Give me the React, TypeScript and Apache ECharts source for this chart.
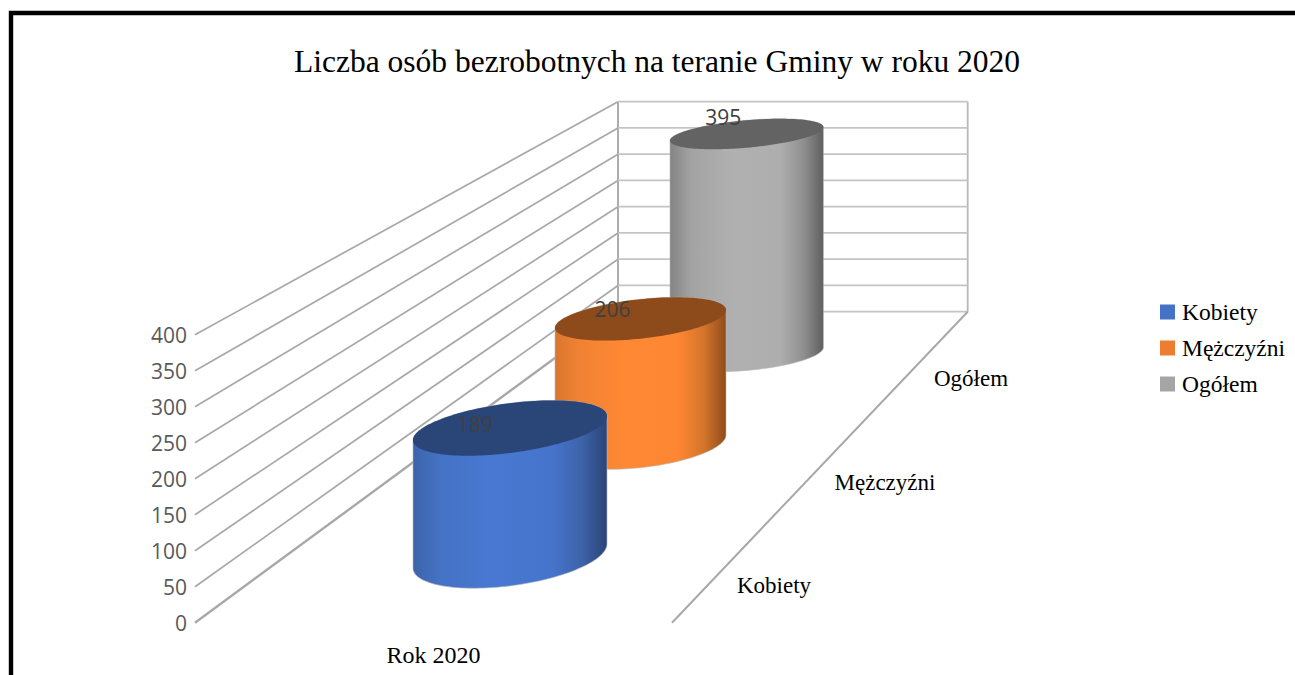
import React, { useEffect, useRef } from "react";
import * as echarts from "echarts";

const titleText = "Liczba osób bezrobotnych na teranie Gminy w roku 2020";
const axisCategories = ["Rok 2020"];
const seriesNames = ["Kobiety", "Mężczyźni", "Ogółem"];
const seriesValues = [189, 206, 395];
const yTicks = [0, 50, 100, 150, 200, 250, 300, 350, 400];
const legendColors = ["#4472c4", "#ed7d31", "#a5a5a5"];

// 3D projection layout, per depth row
const cylinders = [
  { cx: 510, baseY: 556, rx: 97, ry: 24.9, skew: -0.124, depth: 0.94, labelDx: -35, labelDy: -4.5, catX: 774, catY: 585,
    top: "#2a4578", stops: ["#3c64aa", "#4472c4", "#4878d2", "#4674cb", "#3d63a8", "#2a4478"] },
  { cx: 640.5, baseY: 444, rx: 85.5, ry: 19.7, skew: -0.105, depth: 0.843, labelDx: -28, labelDy: -10, catX: 885, catY: 482,
    top: "#8d4a1b", stops: ["#d9762d", "#f08233", "#ff8833", "#fd8733", "#d4752b", "#8f4c1b"] },
  { cx: 746.7, baseY: 354, rx: 76.7, ry: 13.7, skew: -0.087, depth: 0.7735, labelDx: -23.5, labelDy: -17, catX: 971, catY: 378,
    top: "#636363", stops: ["#848484", "#a3a3a3", "#b0b0b0", "#aeaeae", "#8f8f8f", "#5f5f5f"] },
];
const stopOffsets = [0, 0.14, 0.4, 0.72, 0.87, 1];

const wall = { frontX: 195, backX: 618, rightX: 967.7, backBottomY: 311.7, backTopY: 101.7, floorFrontX: 672, floorFrontY: 622.7 };

const renderWalls = (_: any, api: any) => {
  const v = api.value(1);
  const y = api.coord([0, v])[1];
  const y0 = api.coord([0, 0])[1];
  const y1 = api.coord([0, 400])[1];
  const yb = wall.backBottomY - ((y0 - y) / (y0 - y1)) * (wall.backBottomY - wall.backTopY);
  const children: any[] = [
    { type: "line", shape: { x1: wall.frontX, y1: y, x2: wall.backX, y2: yb }, style: { stroke: "#a8a8a8", lineWidth: v === 0 ? 2.4 : 1.7 } },
    { type: "line", shape: { x1: wall.backX, y1: yb, x2: wall.rightX, y2: yb }, style: { stroke: "#c4c4c4", lineWidth: 1.8 } },
  ];
  if (v === 0) {
    children.push(
      { type: "line", shape: { x1: wall.backX, y1: wall.backTopY, x2: wall.backX, y2: wall.backBottomY }, style: { stroke: "#adadad", lineWidth: 2 } },
      { type: "line", shape: { x1: wall.rightX, y1: wall.backTopY, x2: wall.rightX, y2: wall.backBottomY }, style: { stroke: "#b8b8b8", lineWidth: 1.8 } },
      { type: "line", shape: { x1: wall.rightX, y1: wall.backBottomY, x2: wall.floorFrontX, y2: wall.floorFrontY }, style: { stroke: "#a8a8a8", lineWidth: 2 } }
    );
  }
  return { type: "group", children };
};

const makeCylinderRenderer = (index: number) => (_: any, api: any) => {
  const c = cylinders[index];
  const value = api.value(1);
  const h = (api.coord([0, 0])[1] - api.coord([0, value])[1]) * c.depth;
  const topY = c.baseY - h;
  const pt = (t: number, cy: number, ry: number) => [
    c.cx + c.rx * Math.cos(t),
    cy + ry * Math.sin(t) + c.skew * c.rx * Math.cos(t),
  ];
  const n = 72;
  const body: number[][] = [];
  for (let i = 0; i <= n; i++) body.push(pt(Math.PI - (Math.PI * i) / n, c.baseY, c.ry * 1.2));
  for (let i = 0; i <= n; i++) body.push(pt(-(Math.PI * i) / n, topY, c.ry));
  const cap: number[][] = [];
  for (let i = 0; i < n * 2; i++) cap.push(pt((Math.PI * i) / n, topY, c.ry));
  const gradient = new echarts.graphic.LinearGradient(0, 0, 1, 0,
    c.stops.map((color, i) => ({ offset: stopOffsets[i], color })));
  return {
    type: "group",
    children: [
      { type: "polygon", shape: { points: body }, style: { fill: gradient, stroke: "#b5b5b5", lineWidth: 0.6 } },
      { type: "polygon", shape: { points: cap }, style: { fill: c.top } },
      { type: "text", style: { text: String(value), x: c.cx + c.labelDx, y: topY + c.labelDy, align: "center", verticalAlign: "middle",
          font: '21px "Open Sans"', fill: "#404040" } },
      { type: "text", style: { text: seriesNames[index], x: c.catX, y: c.catY, align: "center", verticalAlign: "middle",
          font: '23px "Liberation Serif"', fill: "#000" } },
    ],
  };
};

export default function App() {
  const ref = useRef<HTMLDivElement>(null);
  useEffect(() => {
    const chart = echarts.init(ref.current!, undefined, { renderer: "svg" });
    const cylinderSeries = seriesNames
      .map((name, i) => ({
        type: "custom",
        name,
        coordinateSystem: "cartesian2d",
        clip: false,
        itemStyle: { color: legendColors[i] },
        renderItem: makeCylinderRenderer(i),
        data: [[0, seriesValues[i]]],
      }))
      .reverse();
    chart.setOption({
      animation: false,
      backgroundColor: "#fff",
      title: {
        text: titleText,
        left: 294,
        top: 45,
        padding: 0,
        textStyle: { fontFamily: "Liberation Serif", fontSize: 31.5, fontWeight: "normal", color: "#000" },
      },
      grid: { left: 195, right: 623, top: 334.7, height: 288 },
      xAxis: {
        type: "category",
        data: axisCategories,
        axisLine: { show: false },
        axisTick: { show: false },
        axisLabel: { fontFamily: "Liberation Serif", fontSize: 24, color: "#000", margin: 20 },
      },
      yAxis: {
        type: "value",
        min: 0,
        max: 400,
        interval: 50,
        axisLine: { show: false },
        axisTick: { show: false },
        splitLine: { show: false },
        axisLabel: { fontFamily: "Open Sans", fontSize: 21, color: "#595959", margin: 8 },
      },
      legend: {
        data: seriesNames,
        orient: "vertical",
        left: 1160,
        top: 300,
        padding: 0,
        itemWidth: 15,
        itemHeight: 15,
        itemGap: 12,
        icon: "rect",
        textStyle: { fontFamily: "Liberation Serif", fontSize: 23.5, color: "#000", padding: [0, 0, 0, 2] },
      },
      graphic: [
        { type: "rect", silent: true, shape: { x: 11, y: 13, width: 1500, height: 900 },
          style: { fill: "none", stroke: "#000", lineWidth: 4.4 } },
      ],
      series: [
        { type: "custom", coordinateSystem: "cartesian2d", clip: false, silent: true, renderItem: renderWalls,
          data: yTicks.map((t) => [0, t]) },
        ...cylinderSeries,
      ],
    });
    return () => chart.dispose();
  }, []);
  return <div ref={ref} style={{ position: "fixed", left: 0, top: 0, width: 1295, height: 675 }} />;
}
